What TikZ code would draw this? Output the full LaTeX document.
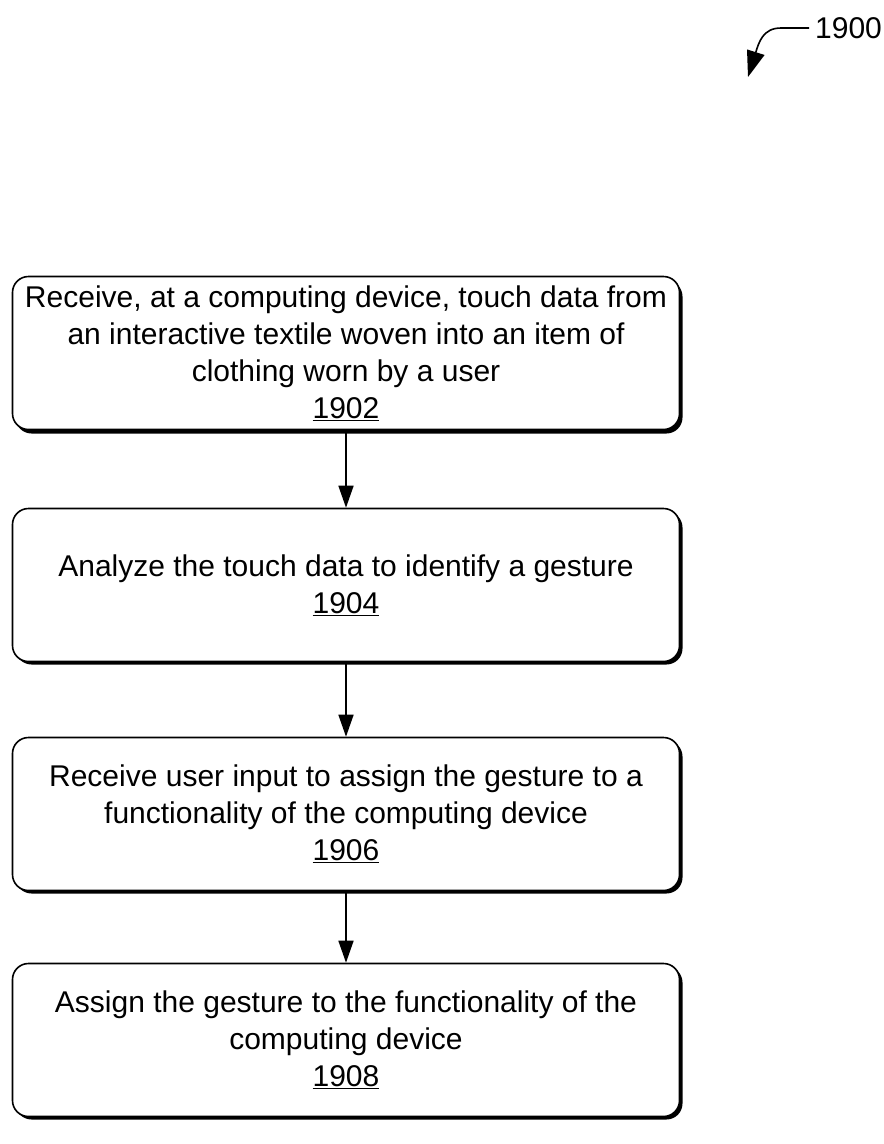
\documentclass[tikz,border=0pt]{standalone}
\usepackage{fontspec}
\setmainfont{Liberation Sans}
\usetikzlibrary{arrows.meta,positioning}
\tikzset{
  stepbox/.style={draw=black, line width=1.6pt, rounded corners=16pt, fill=white,
    minimum width=667pt, minimum height=153pt, align=center, inner sep=0pt,
    font=\fontsize{30}{37}\selectfont},
  shadowbox/.style={fill=black, rounded corners=16pt, minimum width=667pt, minimum height=153pt, inner sep=0pt},
  flow/.style={line width=1.6pt, -{Triangle[length=22pt,width=15pt]}},
}
\begin{document}
\begin{tikzpicture}[x=1pt,y=-1pt]
\useasboundingbox (0,0) rectangle (884,1144);
% shadows
\foreach \cy in {354,585,814,1040}{
  \node[shadowbox] at (349,\cy+3) {};
}
\node[stepbox] (s1) at (346,353) {Receive, at a computing device, touch data from\\an interactive textile woven into an item of\\clothing worn by a user\\\underline{1902}};
\node[stepbox] (s2) at (346,585) {Analyze the touch data to identify a gesture\\\underline{1904}};
\node[stepbox] (s3) at (346,814) {Receive user input to assign the gesture to a\\functionality of the computing device\\\underline{1906}};
\node[stepbox] (s4) at (346,1040) {Assign the gesture to the functionality of the\\computing device\\\underline{1908}};
\draw[flow] (s1.south) ++(0,3) -- (s2.north);
\draw[flow] (s2) -- (s3);
\draw[flow] (s3) -- (s4);
\node[font=\fontsize{30}{34}\selectfont, anchor=west, inner sep=0pt] (lbl) at (815,28) {1900};
\coordinate (tip) at (748,77);
\draw[line width=1.6pt, -{Triangle[length=26pt,width=18pt]}] ([xshift=-6pt]lbl.west) -- (781,28) .. controls (763,28) and (759,42) .. (tip);
\end{tikzpicture}
\end{document}
